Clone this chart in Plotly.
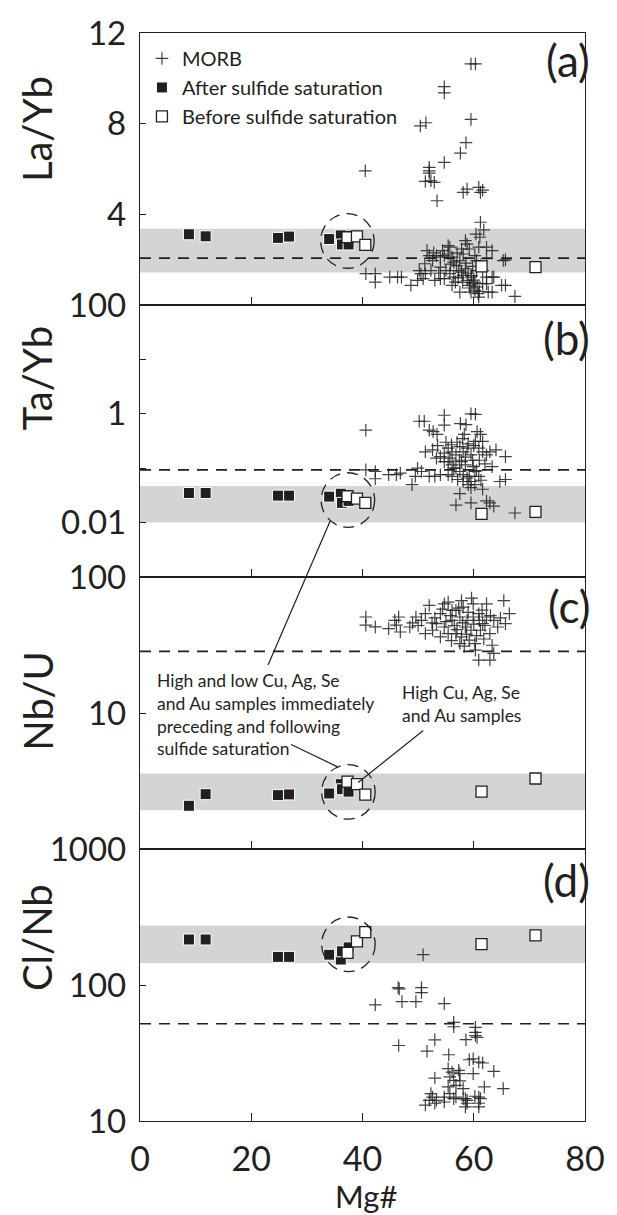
import plotly.graph_objects as go
from plotly.subplots import make_subplots

# ---------------- data ----------------
after_mg = [8.8, 11.8, 24.8, 26.8, 34.0, 36.1, 36.3, 37.5]
before_mg = [37.3, 39.0, 40.5, 61.4, 71.1]

after_la_yb = [3.12, 3.03, 2.96, 3.02, 2.91, 3.07, 2.67, 2.67]
before_la_yb = [2.99, 3.03, 2.65, 1.70, 1.67]
after_ta_yb = [0.035, 0.035, 0.0313, 0.0313, 0.030, 0.034, 0.023, 0.025]
before_ta_yb = [0.0305, 0.0277, 0.023, 0.0145, 0.0158]
after_nb_u = [2.08, 2.53, 2.49, 2.52, 2.56, 3.0, 2.75, 2.64]
before_nb_u = [3.13, 3.0, 2.51, 2.64, 3.30]
after_cl_nb = [216, 216, 161, 161, 167, 154, 177, 189]
before_cl_nb = [172, 209, 245, 200, 232]

morb_a_mg = [59.5, 60.3, 54.7, 54.7, 50.4, 51.4, 59.5, 58.6, 57.6, 54.7, 40.5, 52.0, 52.0, 52.0,
             51.3, 52.9, 52.3, 53.4, 58.1, 58.8, 60.9, 61.6, 61.2, 61.2, 61.8, 60.4, 61.1,
             40.6, 42.3, 42.3, 44.9, 46.3, 47.0, 48.7, 49.9, 50.9,
             51.6, 52.0, 52.6, 52.3, 51.3, 53.0, 54.0,
             53.3, 54.0, 54.7, 55.4, 55.7, 55.4, 56.1, 56.4,
             54.0, 55.0, 55.7, 54.7, 56.4, 56.7, 56.1,
             57.5, 58.1, 58.8, 58.5, 59.2, 57.8, 58.1, 58.8, 59.5, 59.2, 59.9, 60.2, 57.5, 59.5,
             60.9, 60.2, 61.6, 62.3, 62.6, 63.3, 62.3, 63.3, 65.0, 65.7, 67.4,
             60.9, 62.3, 63.3, 62.3, 65.7, 65.3,
             56.9, 57.3, 60.5, 61.6, 63.6, 57.8, 60.2, 60.5, 50.2, 50.5, 51.2,
             58.5, 59.0, 59.6, 60.0, 58.0, 59.3, 60.6, 57.2, 58.6, 59.8, 55.8, 53.7, 52.8,
             54.4, 57.0, 60.8, 61.0]
morb_a_val = [10.64, 10.64, 9.63, 9.36, 7.9, 8.04, 8.19, 7.16, 6.7, 6.29, 5.92, 6.07, 5.92, 5.82,
              5.45, 5.41, 5.48, 4.6, 4.97, 5.11, 5.19, 5.07, 4.97, 3.65, 3.31, 3.13, 2.99,
              1.38, 1.38, 1.01, 1.23, 1.23, 1.23, 0.87, 1.09, 1.16,
              2.40, 2.18, 1.96, 1.52, 1.38, 1.09, 1.16,
              2.18, 2.11, 2.18, 2.25, 2.55, 2.62, 2.11, 1.89,
              1.67, 1.52, 1.38, 1.16, 1.23, 1.01, 0.87,
              1.96, 2.25, 2.69, 2.84, 2.47, 1.45, 1.31, 1.09, 1.23, 0.87, 0.94, 1.01, 0.57, 0.57,
              0.35, 0.65, 0.94, 0.94, 0.57, 0.57, 1.23, 1.23, 0.87, 0.87, 0.38,
              2.55, 2.55, 2.40, 2.04, 1.99, 1.96,
              1.74, 1.52, 1.52, 1.52, 1.23, 2.47, 2.18, 1.96, 1.52, 1.38, 1.82,
              1.6, 1.4, 1.3, 1.1, 1.0, 0.75, 0.8, 1.2, 1.85, 1.7, 1.8, 1.4, 2.3,
              2.4, 2.3, 0.5, 0.6]

morb_b_mg = [40.6, 54.7, 59.5, 60.3, 50.2, 51.1, 54.7, 57.6, 58.6,
             52.0, 52.7, 53.4, 58.3, 60.6, 61.2, 61.6, 60.3,
             51.3, 52.6, 53.3, 54.0, 54.7, 55.4, 56.1, 56.8, 57.5, 58.1, 58.8, 59.5, 60.9, 61.6,
             62.3, 62.9, 64.0, 65.7,
             49.9, 50.6, 49.5, 48.9, 52.0, 53.0, 54.0,
             40.6, 42.3, 42.3, 44.7, 46.1, 46.8,
             55.4, 56.1, 56.8, 57.5, 58.1, 58.8, 59.5, 60.2, 59.5, 57.5, 56.8, 59.5, 61.6, 62.3,
             62.9, 63.6,
             64.7, 65.7, 63.3, 67.4,
             54.7, 55.7, 56.4, 57.8, 58.5, 59.9, 60.2, 60.9, 59.2, 58.1, 57.1, 56.1, 55.4,
             57.0, 58.0, 59.0, 56.0, 55.0, 53.5, 60.0, 61.0, 62.0, 58.5, 59.8, 57.4, 60.5, 61.3, 59.0]
morb_b_val = [0.50, 0.94, 1.0, 0.98, 0.73, 0.73, 0.62, 0.66, 0.63,
              0.50, 0.47, 0.42, 0.42, 0.47, 0.42, 0.31, 0.31,
              0.20, 0.217, 0.153, 0.163, 0.189, 0.233, 0.20, 0.176, 0.249, 0.20, 0.233, 0.176,
              0.233, 0.20, 0.176, 0.20, 0.217, 0.163,
              0.10, 0.087, 0.071, 0.050, 0.071, 0.071, 0.076,
              0.093, 0.087, 0.064, 0.076, 0.076, 0.081,
              0.132, 0.115, 0.100, 0.087, 0.076, 0.066, 0.057, 0.050, 0.044, 0.034, 0.021, 0.023,
              0.041, 0.025, 0.023, 0.020,
              0.057, 0.062, 0.107, 0.015,
              0.132, 0.153, 0.100, 0.132, 0.115, 0.107, 0.087, 0.071, 0.071, 0.057, 0.062, 0.071,
              0.076,
              0.30, 0.35, 0.28, 0.27, 0.30, 0.26, 0.26, 0.14, 0.12, 0.16, 0.14, 0.14, 0.09, 0.06, 0.05]

morb_c_mg = [40.6, 40.6, 42.3, 44.7, 45.8, 46.5, 46.8, 46.1,
             48.5, 49.6, 50.6, 51.3, 52.0, 52.6, 54.0, 54.7, 55.4, 56.1, 56.8, 57.5, 57.8, 58.1,
             58.8, 59.5, 60.2, 60.9, 61.6, 62.3, 62.9, 63.6, 64.3, 65.4, 65.7, 66.4, 63.3, 63.6,
             62.9, 60.9, 51.3, 53.3, 54.7, 56.1, 57.5, 58.5, 59.9, 61.2, 62.3, 59.2, 57.8, 55.4,
             54.0, 59.9, 56.8,
             53.0, 55.0, 56.5, 58.0, 59.0, 60.0, 61.0, 62.0, 57.0, 58.7, 60.5, 55.8, 54.4, 52.5,
             50.0, 61.5, 63.0, 64.8, 59.6, 56.0, 60.3, 58.3, 49.0, 57.3, 61.8]
morb_c_val = [50.8, 44.2, 43.0, 41.7, 48.0, 50.8, 39.4, 44.2,
              42.9, 50.8, 48.0, 38.4, 61.8, 40.6, 53.7, 63.5, 65.3, 48.0, 38.4, 32.4, 67.1, 60.1,
              48.0, 40.6, 32.4, 53.7, 45.4, 63.5, 38.4, 48.0, 42.9, 67.1, 45.4, 53.7, 31.5, 27.4,
              24.5, 24.5, 53.7, 45.4, 42.9, 56.8, 50.8, 42.9, 50.8, 40.6, 50.8, 34.3, 36.3, 38.4,
              36.3, 63.5, 56.8,
              50.0, 47.0, 44.0, 46.0, 55.0, 45.0, 48.0, 44.0, 41.0, 38.0, 37.0, 52.0, 58.0, 46.0,
              44.0, 57.0, 52.0, 50.0, 70.0, 34.0, 29.0, 31.0, 46.0, 59.0, 35.0]

morb_d_mg = [50.9, 46.4, 46.6, 50.6, 50.6, 42.3, 47.1, 49.6, 54.7, 56.4, 56.4, 60.3, 60.3,
             60.3, 60.6, 58.6, 53.0, 46.5, 51.6, 55.5, 59.2, 59.9, 60.9, 61.6, 63.6,
             55.4, 56.1, 57.3, 57.5, 55.7, 56.4, 57.5, 58.1, 59.9, 55.4, 56.8, 55.7, 56.8, 58.1,
             58.5, 58.8, 60.2, 61.2, 60.9, 61.9, 65.3, 53.0,
             51.3, 52.0, 52.3, 52.6, 53.0, 53.3, 54.7, 54.7, 56.4, 58.5, 58.8, 60.9, 60.9]
morb_d_val = [167, 95.6, 93.6, 95.6, 88, 71.5, 75.5, 75.5, 73, 53.1, 49.3, 48.8, 44.9,
              42.5, 41.2, 39.6, 39.5, 35.9, 32.6, 30.7, 28.2, 28.7, 27.1, 26.7, 23.2,
              24.3, 22.9, 23.6, 22.3, 21.1, 19.9, 19.7, 17.3, 22.3, 17.8, 18.3, 15.9, 15.0, 14.6,
              12.7, 14.2, 15.2, 14.6, 12.7, 17.8, 17.3, 20.7,
              13.1, 14.2, 15.9, 15.0, 13.5, 14.2, 13.8, 15.0, 14.6, 14.6, 13.5, 15.0, 13.5]

# reference lines (dashed) and shaded fields
ref_values = [2.07, 0.093, 28.4, 51.9]
band_low = [1.43, 0.010, 1.93, 145]
band_high = [3.36, 0.047, 3.59, 274]

y_titles = ["La/Yb", "Ta/Yb", "Nb/U", "Cl/Nb"]
panel_tags = ["(a)", "(b)", "(c)", "(d)"]
x_ticks = [0, 20, 40, 60, 80]
y_tickvals = [[4, 8, 12], [0.01, 0.1, 1, 10, 100], [10, 100], [10, 100, 1000]]
y_ticktext = [["4", "8", "12"], ["0.01", "", "1", "", "100"], ["10", "100"], ["10", "100", "1000"]]

# ---------------- layout geometry ----------------
W, H = 617, 1215
L, R, T, B = 140, 20, 25, 94
PW = W - L - R
PH = H - T - B


def px_x(px):
    return (px - L) / PW


def px_y(py):
    return (H - B - py) / PH


INK = "#231f20"
FONT = "Lato"

fig = make_subplots(rows=4, cols=1, shared_xaxes=True, vertical_spacing=0)

morb = [(morb_a_mg, morb_a_val), (morb_b_mg, morb_b_val), (morb_c_mg, morb_c_val), (morb_d_mg, morb_d_val)]
after = [after_la_yb, after_ta_yb, after_nb_u, after_cl_nb]
before = [before_la_yb, before_ta_yb, before_nb_u, before_cl_nb]

for i in range(4):
    r = i + 1
    fig.add_trace(go.Scatter(x=morb[i][0], y=morb[i][1], mode="markers", name="MORB",
                             legendgroup="morb", showlegend=(i == 0),
                             marker=dict(symbol="cross-thin", size=9,
                                         line=dict(width=1.2, color="rgba(35,31,32,0.85)"))),
                  row=r, col=1)
    fig.add_trace(go.Scatter(x=after_mg, y=after[i], mode="markers", name="After sulfide saturation",
                             legendgroup="after", showlegend=(i == 0),
                             marker=dict(symbol="square", size=11, color=INK,
                                         line=dict(width=1, color="white"))),
                  row=r, col=1)
    fig.add_trace(go.Scatter(x=before_mg, y=before[i], mode="markers", name="Before sulfide saturation",
                             legendgroup="before", showlegend=(i == 0),
                             marker=dict(symbol="square", size=11, color="white",
                                         line=dict(width=1.3, color=INK))),
                  row=r, col=1)

    xr = "x" if r == 1 else f"x{r}"
    yr = "y" if r == 1 else f"y{r}"
    # shaded field
    fig.add_shape(type="rect", xref=f"{xr} domain", yref=yr, x0=0, x1=1,
                  y0=band_low[i], y1=band_high[i], fillcolor="#d3d4d6",
                  line=dict(width=0), layer="below")
    # dashed reference line
    fig.add_shape(type="line", xref=f"{xr} domain", yref=yr, x0=0, x1=1,
                  y0=ref_values[i], y1=ref_values[i],
                  line=dict(color=INK, width=1.6, dash="11px,8px"), layer="below")

# axes
fig.update_xaxes(range=[0, 80], tickvals=x_ticks, ticks="inside", ticklen=8, tickwidth=1.3,
                 tickcolor=INK, showline=True, linecolor=INK, linewidth=1.3, mirror=True,
                 showgrid=False, zeroline=False, showticklabels=False)
fig.update_xaxes(showticklabels=True, tickfont=dict(family=FONT, size=34, color=INK),
                 ticklabelstandoff=8, row=4, col=1)

y_types = ["linear", "log", "log", "log"]
y_ranges = [[0, 12], [-3, 2], [0, 2], [1, 3]]
for i in range(4):
    fig.update_yaxes(type=y_types[i], range=y_ranges[i], tickvals=y_tickvals[i],
                     ticktext=y_ticktext[i], ticks="inside", ticklen=6, tickwidth=1.3,
                     tickcolor=INK, showline=True, linecolor=INK, linewidth=1.3, mirror=True,
                     showgrid=False, zeroline=False, ticklabelstandoff=6,
                     tickfont=dict(family=FONT, size=33, color=INK), row=i + 1, col=1)

annotations = []
# y-axis titles
for txt, cy in zip(y_titles, [122, 373, 698, 936]):
    annotations.append(dict(text=txt, xref="paper", yref="paper", x=px_x(35), y=px_y(cy),
                            textangle=-90, showarrow=False, xanchor="center", yanchor="middle",
                            font=dict(family=FONT, size=40, color=INK)))
# panel tags
for txt, cy in zip(panel_tags, [52, 332, 602, 878]):
    annotations.append(dict(text=txt, xref="paper", yref="paper", x=px_x(604), y=px_y(cy),
                            showarrow=False, xanchor="right", yanchor="middle",
                            font=dict(family=FONT, size=44, color=INK)))
# x title
annotations.append(dict(text="Mg#", xref="paper", yref="paper", x=px_x(372), y=px_y(1197),
                        showarrow=False, xanchor="center", yanchor="middle",
                        font=dict(family=FONT, size=31, color=INK)))
# callout texts
annotations.append(dict(text="High and low Cu, Ag, Se<br>and Au samples immediately<br>"
                             "preceding and following<br>sulfide saturation",
                        xref="paper", yref="paper", x=px_x(155), y=px_y(665), align="left",
                        showarrow=False, xanchor="left", yanchor="top",
                        font=dict(family=FONT, size=17.5, color=INK)))
annotations.append(dict(text="High Cu, Ag, Se<br>and Au samples",
                        xref="paper", yref="paper", x=px_x(407), y=px_y(677), align="left",
                        showarrow=False, xanchor="left", yanchor="top",
                        font=dict(family=FONT, size=17.5, color=INK)))
fig.update_layout(annotations=annotations)

# dashed circles around the samples near sulfide saturation
for cx, cy in [(353, 234.5), (353.5, 495.5), (354, 789.5), (354, 943)]:
    rad = 27.5
    fig.add_shape(type="circle", xref="paper", yref="paper",
                  x0=px_x(cx - rad), x1=px_x(cx + rad), y0=px_y(cy + rad), y1=px_y(cy - rad),
                  line=dict(color=INK, width=1.3, dash="11px,7px"), layer="above")

# leader lines
for (xa, ya), (xb, yb) in [((335.3, 516.7), (271.5, 661.7)),
                           ((295.2, 741.7), (342.4, 764.0)),
                           ((430.9, 727.7), (364.0, 780.0))]:
    fig.add_shape(type="line", xref="paper", yref="paper",
                  x0=px_x(xa), y0=px_y(ya), x1=px_x(xb), y1=px_y(yb),
                  line=dict(color=INK, width=1.2), layer="above")

fig.update_layout(
    width=W, height=H,
    margin=dict(l=L, r=R, t=T, b=B),
    paper_bgcolor="white", plot_bgcolor="white",
    font=dict(family=FONT, color=INK),
    legend=dict(x=px_x(142), y=px_y(31), xanchor="left", yanchor="top",
                bgcolor="rgba(0,0,0,0)", font=dict(family=FONT, size=20, color=INK),
                tracegroupgap=0),
)

fig.write_html("out.html")
